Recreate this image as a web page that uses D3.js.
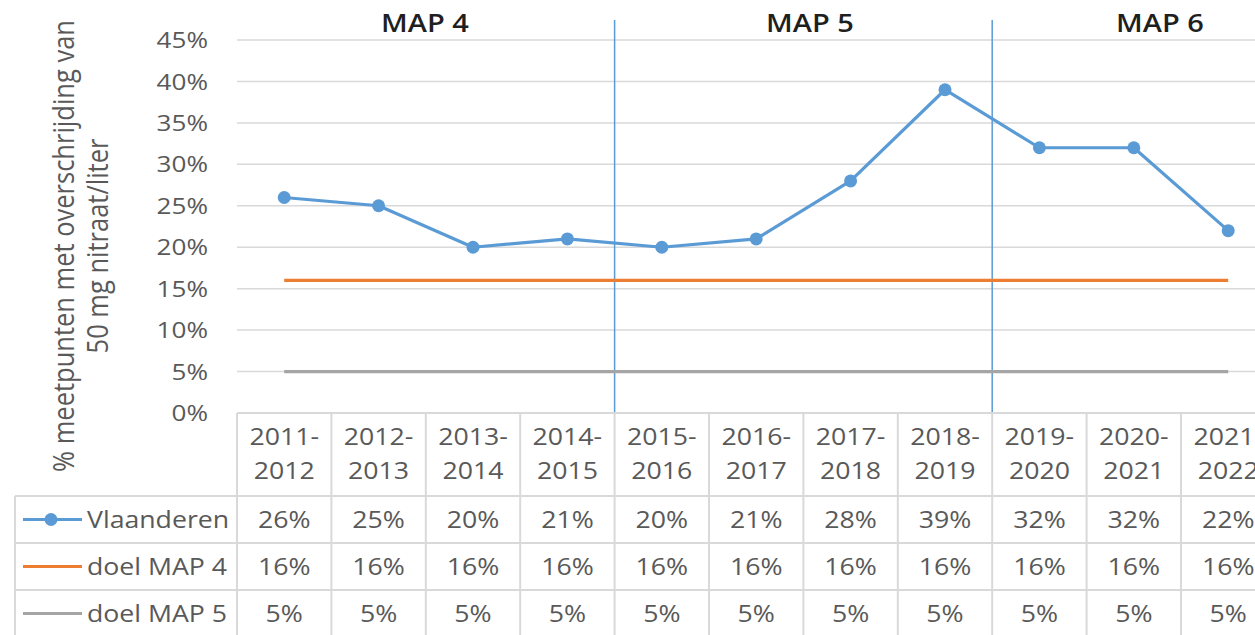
<!DOCTYPE html>
<html>
<head>
<meta charset="utf-8">
<script src="https://cdn.jsdelivr.net/npm/d3@7"></script>
<style>
  body { margin: 0; background: #fff; }
  text { font-family: "Open Sans", sans-serif; fill: #595959; }
</style>
</head>
<body>
<div id="chart"></div>
<script>
// data
var categories = ["2011-2012", "2012-2013", "2013-2014", "2014-2015", "2015-2016", "2016-2017",
                  "2017-2018", "2018-2019", "2019-2020", "2020-2021", "2021-2022"];
var vlaanderen = [26, 25, 20, 21, 20, 21, 28, 39, 32, 32, 22];
var doelMap4 = [16, 16, 16, 16, 16, 16, 16, 16, 16, 16, 16];
var doelMap5 = [5, 5, 5, 5, 5, 5, 5, 5, 5, 5, 5];
var yTicks = [0, 5, 10, 15, 20, 25, 30, 35, 40, 45];
var seriesNames = ["Vlaanderen", "doel MAP 4", "doel MAP 5"];
var mapLabels = ["MAP 4", "MAP 5", "MAP 6"];
var mapBreaks = ["2015-2016", "2019-2020"];
var yTitle = ["% meetpunten met overschrijding van", "50 mg nitraat/liter"];

var width = 1255,
    height = 635,
    SX = 1.16; // horizontal text stretch

var colors = ["#5B9BD5", "#ED7D31", "#A5A5A5"],
    grid = "#D9D9D9";

var svg = d3.select("#chart")
    .append("svg")
    .attr("width", width)
    .attr("height", height);

var x = d3.scaleBand()
    .domain(categories)
    .range([237, 237 + 94.4 * categories.length])
    .padding(0);

var y = d3.scaleLinear()
    .domain([0, 45])
    .range([413, 40]);

function place(sel, px, py) {
    return sel.attr("transform", "translate(" + px + "," + py + ") scale(" + SX + ",1)");
}

// gridlines
svg.append("g")
    .selectAll("line")
    .data(yTicks.filter(function (d) { return d > 0; }))
    .enter()
    .append("line")
    .attr("x1", x.range()[0])
    .attr("x2", x.range()[1])
    .attr("y1", function (d) { return y(d); })
    .attr("y2", function (d) { return y(d); })
    .attr("stroke", grid)
    .attr("stroke-width", 1.5);

// y tick labels
svg.append("g")
    .selectAll("text")
    .data(yTicks)
    .enter()
    .append("text")
    .attr("text-anchor", "end")
    .attr("dy", "0.36em")
    .style("font-size", "22.5px")
    .each(function (d) { place(d3.select(this), 208, y(d)); })
    .text(function (d) { return d + "%"; });

// y title
svg.append("g")
    .selectAll("text")
    .data(yTitle)
    .enter()
    .append("text")
    .attr("text-anchor", "middle")
    .attr("dy", "0.32em")
    .style("font-size", "25.5px")
    .attr("transform", function (d, i) {
        return "translate(" + (65 + i * 34) + ",246) rotate(-90) scale(1," + SX + ")";
    })
    .text(function (d) { return d; });

// MAP period separators and labels
svg.append("g")
    .selectAll("line")
    .data(mapBreaks)
    .enter()
    .append("line")
    .attr("x1", function (d) { return x(d); })
    .attr("x2", function (d) { return x(d); })
    .attr("y1", 20)
    .attr("y2", y(0))
    .attr("stroke", colors[0])
    .attr("stroke-width", 1.5);

var labelX = [425, 810, 1160];
svg.append("g")
    .selectAll("text")
    .data(mapLabels)
    .enter()
    .append("text")
    .attr("text-anchor", "middle")
    .attr("dy", "0.36em")
    .style("font-size", "25px")
    .style("font-weight", 600)
    .style("fill", "#1F1F1F")
    .each(function (d, i) { place(d3.select(this), labelX[i], 23); })
    .text(function (d) { return d; });

// series lines
var series = [vlaanderen, doelMap4, doelMap5];
var line = d3.line()
    .x(function (d, i) { return x(categories[i]) + x.bandwidth() / 2; })
    .y(function (d) { return y(d); });

svg.append("g")
    .selectAll("path")
    .data(series.slice().reverse())
    .enter()
    .append("path")
    .attr("d", line)
    .attr("fill", "none")
    .attr("stroke", function (d, i) { return colors[2 - i]; })
    .attr("stroke-width", 3.2)
    .attr("stroke-linejoin", "round");

svg.append("g")
    .selectAll("circle")
    .data(vlaanderen)
    .enter()
    .append("circle")
    .attr("cx", function (d, i) { return x(categories[i]) + x.bandwidth() / 2; })
    .attr("cy", function (d) { return y(d); })
    .attr("r", 6.5)
    .attr("fill", colors[0]);

// data table
var headTop = y(0),
    headBottom = 496,
    rowH = 47,
    tableLeft = 15;

var tbl = svg.append("g");

tbl.append("line")
    .attr("x1", x.range()[0]).attr("x2", x.range()[1])
    .attr("y1", headTop).attr("y2", headTop)
    .attr("stroke", grid).attr("stroke-width", 2);

tbl.selectAll("line.row")
    .data(d3.range(seriesNames.length + 1))
    .enter()
    .append("line")
    .attr("class", "row")
    .attr("x1", tableLeft).attr("x2", x.range()[1])
    .attr("y1", function (d) { return headBottom + d * rowH; })
    .attr("y2", function (d) { return headBottom + d * rowH; })
    .attr("stroke", grid).attr("stroke-width", 2);

tbl.selectAll("line.col")
    .data(categories.concat(["end"]))
    .enter()
    .append("line")
    .attr("class", "col")
    .attr("x1", function (d, i) { return x.range()[0] + i * x.step(); })
    .attr("x2", function (d, i) { return x.range()[0] + i * x.step(); })
    .attr("y1", headTop)
    .attr("y2", height)
    .attr("stroke", grid).attr("stroke-width", 2);

tbl.append("line")
    .attr("x1", tableLeft).attr("x2", tableLeft)
    .attr("y1", headBottom).attr("y2", height)
    .attr("stroke", grid).attr("stroke-width", 2);

// header: category labels on two lines
categories.forEach(function (c) {
    var parts = c.split("-");
    var cx = x(c) + x.bandwidth() / 2;
    tbl.append("text")
        .attr("text-anchor", "middle")
        .attr("dy", "0.36em")
        .style("font-size", "23px")
        .call(place, cx, 437)
        .text(parts[0] + "-");
    tbl.append("text")
        .attr("text-anchor", "middle")
        .attr("dy", "0.36em")
        .style("font-size", "23px")
        .call(place, cx, 471)
        .text(parts[1]);
});

// table rows
series.forEach(function (vals, r) {
    var cy = headBottom + r * rowH + rowH / 2;
    tbl.selectAll("text.v" + r)
        .data(vals)
        .enter()
        .append("text")
        .attr("class", "v" + r)
        .attr("text-anchor", "middle")
        .attr("dy", "0.36em")
        .style("font-size", "23px")
        .each(function (d, i) { place(d3.select(this), x(categories[i]) + x.bandwidth() / 2, cy); })
        .text(function (d) { return d + "%"; });

    // legend key
    tbl.append("line")
        .attr("x1", 23).attr("x2", 82)
        .attr("y1", cy).attr("y2", cy)
        .attr("stroke", colors[r])
        .attr("stroke-width", 3.2);
    if (r === 0) {
        tbl.append("circle")
            .attr("cx", 51).attr("cy", cy)
            .attr("r", 6.5)
            .attr("fill", colors[0]);
    }
    tbl.append("text")
        .attr("dy", "0.36em")
        .style("font-size", "23px")
        .call(place, 87, cy)
        .text(seriesNames[r]);
});
</script>
</body>
</html>
